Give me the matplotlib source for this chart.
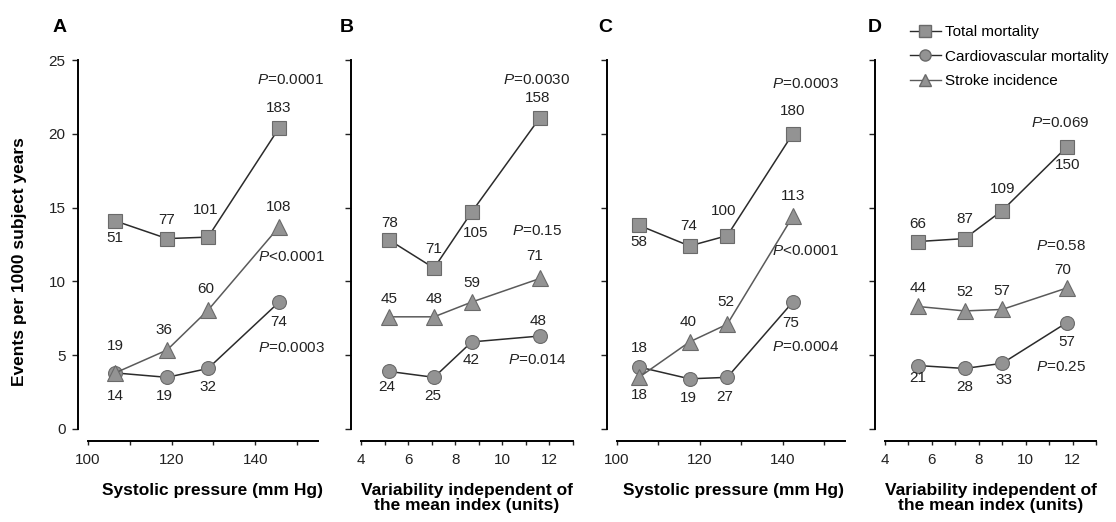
import numpy as np
import matplotlib
matplotlib.use("Agg")
import matplotlib.pyplot as plt
from matplotlib.lines import Line2D

plt.rcParams['font.family'] = ['Liberation Sans', 'DejaVu Sans']
plt.rcParams['mathtext.fontset'] = 'custom'
plt.rcParams['mathtext.it'] = 'Liberation Sans:italic'
plt.rcParams['mathtext.rm'] = 'Liberation Sans'

# -----------------------------
# DATA
# -----------------------------
panel_letters = ["A", "B", "C", "D"]
series_names = ["Total mortality", "Cardiovascular mortality", "Stroke incidence"]

# x positions (group means) per panel
x_A = [106.5, 118.9, 128.7, 145.7]
x_B = [5.2, 7.1, 8.7, 11.6]
x_C = [105.3, 117.5, 126.6, 142.4]
x_D = [5.4, 7.4, 9.0, 11.75]

# rates per 1000 subject years
total_A = [14.1, 12.9, 13.0, 20.4]
cv_A = [3.8, 3.5, 4.1, 8.6]
stroke_A = [3.8, 5.35, 8.05, 13.7]

total_B = [12.8, 10.9, 14.7, 21.1]
cv_B = [3.9, 3.5, 5.9, 6.3]
stroke_B = [7.6, 7.6, 8.6, 10.2]

total_C = [13.8, 12.4, 13.1, 20.0]
cv_C = [4.2, 3.4, 3.5, 8.6]
stroke_C = [3.5, 5.9, 7.1, 14.4]

total_D = [12.7, 12.9, 14.8, 19.1]
cv_D = [4.3, 4.1, 4.45, 7.2]
stroke_D = [8.3, 8.0, 8.1, 9.55]

# number of events
n_total_A = ["51", "77", "101", "183"]
n_cv_A = ["14", "19", "32", "74"]
n_stroke_A = ["19", "36", "60", "108"]

n_total_B = ["78", "71", "105", "158"]
n_cv_B = ["24", "25", "42", "48"]
n_stroke_B = ["45", "48", "59", "71"]

n_total_C = ["58", "74", "100", "180"]
n_cv_C = ["18", "19", "27", "75"]
n_stroke_C = ["18", "40", "52", "113"]

n_total_D = ["66", "87", "109", "150"]
n_cv_D = ["21", "28", "33", "57"]
n_stroke_D = ["44", "52", "57", "70"]

# P values (total, cv, stroke)
p_A = ["=0.0001", "=0.0003", "<0.0001"]
p_B = ["=0.0030", "=0.014", "=0.15"]
p_C = ["=0.0003", "=0.0004", "<0.0001"]
p_D = ["=0.069", "=0.25", "=0.58"]

xlabels = ["Systolic pressure (mm Hg)",
           "Variability independent of\nthe mean index (units)",
           "Systolic pressure (mm Hg)",
           "Variability independent of\nthe mean index (units)"]

# -----------------------------
# LABEL OFFSETS (pixels) - layout only
# -----------------------------
off_total = [[(0, -17), (0, 19), (-2, 27), (0, 20)],
             [(0, 17), (0, 19), (4, -21), (-2, 20)],
             [(0, -17), (-1, 20), (-4, 25), (0, 23)],
             [(0, 18), (0, 20), (0, 22), (1, -18)]]
off_cv = [[(0, -23), (-3, -19), (0, -19), (0, -20)],
          [(-3, -16), (-1, -19), (-1, -18), (-2, 15)],
          [(0, 19), (-1, -19), (-3, -20), (-2, -21)],
          [(0, -12), (0, -19), (2, -17), (0, -19)]]
off_stroke = [[(0, 27), (-3, 20), (-2, 21), (0, 20)],
              [(0, 18), (0, 18), (0, 19), (-5, 22)],
              [(0, -18), (-1, 20), (-1, 22), (0, 20)],
              [(0, 18), (0, 19), (0, 18), (-4, 18)]]
off_p = [[(11, 48), (12, -46), (12, -30)],
         [(-3, 38), (-3, -24), (-3, 47)],
         [(13, 50), (13, -45), (13, -35)],
         [(-6, 24), (-6, -44), (-6, 42)]]
xlabel_x = [0.54, 0.5, 0.51, 0.5]

panels = [
    (x_A, total_A, cv_A, stroke_A, n_total_A, n_cv_A, n_stroke_A, p_A),
    (x_B, total_B, cv_B, stroke_B, n_total_B, n_cv_B, n_stroke_B, p_B),
    (x_C, total_C, cv_C, stroke_C, n_total_C, n_cv_C, n_stroke_C, p_C),
    (x_D, total_D, cv_D, stroke_D, n_total_D, n_cv_D, n_stroke_D, p_D),
]

# axes extents in pixels (left, right)
W, H = 1116, 522
ax_px = [(88, 318), (361, 573), (617, 845), (885, 1096)]
xlims = [(100, 155), (4, 13), (100, 155), (4, 13)]
y_top, y_bot = 60, 429

face = '#939393'
edge = '#6a6a6a'
line_c = '#2b2b2b'
stroke_line = '#5a5a5a'
fs = 11

fig = plt.figure(figsize=(W / 100, H / 100), dpi=100)

for i, (xs, tot, cv, st, nt, nc, ns, pv) in enumerate(panels):
    l, r = ax_px[i]
    ax = fig.add_axes([l / W, 1 - y_bot / H, (r - l) / W, (y_bot - y_top) / H])
    ax.set_xlim(*xlims[i])
    ax.set_ylim(0, 25)

    ax.plot(xs, tot, '-', color=line_c, lw=1.1, marker='s', ms=10,
            mfc=face, mec=edge, mew=0.8, zorder=3)
    ax.plot(xs, cv, '-', color=line_c, lw=1.1, marker='o', ms=10,
            mfc=face, mec=edge, mew=0.8, zorder=3)
    ax.plot(xs, st, '-', color=stroke_line, lw=1.1, marker='^', ms=11,
            mfc=face, mec=edge, mew=0.8, zorder=4)

    for vals, labs, offs in [(tot, nt, off_total[i]), (cv, nc, off_cv[i]),
                             (st, ns, off_stroke[i])]:
        for xv, yv, lab, off in zip(xs, vals, labs, offs):
            ax.annotate(lab, (xv, yv), xytext=off, textcoords='offset pixels',
                        ha='center', va='center', fontsize=fs, color='#222222')

    for vals, p, off in zip([tot, cv, st], pv, off_p[i]):
        ax.annotate(r'$P$' + p, (xs[-1], vals[-1]), xytext=off,
                    textcoords='offset pixels', ha='center', va='center',
                    fontsize=fs, color='#222222')

    # spines
    ax.spines['top'].set_visible(False)
    ax.spines['right'].set_visible(False)
    ax.spines['left'].set_position(('outward', 7.2))
    ax.spines['bottom'].set_position(('outward', 8.6))
    ax.spines['left'].set_bounds(0, 25)
    ax.spines['left'].set_linewidth(1.4)
    ax.spines['bottom'].set_linewidth(1.4)

    ax.set_yticks(np.arange(0, 26, 5))
    if xlims[i][0] == 100:
        ax.set_xticks([100, 120, 140])
        ax.set_xticks(np.arange(100, 156, 10), minor=True)
    else:
        ax.set_xticks([4, 6, 8, 10, 12])
        ax.set_xticks(np.arange(4, 14, 1), minor=True)
    ax.tick_params(axis='both', which='both', direction='out', width=1.0,
                   labelsize=fs, colors='#222222')
    ax.tick_params(axis='y', length=4, pad=5)
    ax.tick_params(axis='x', which='major', length=3, pad=6)
    ax.tick_params(axis='x', which='minor', length=3)
    if i > 0:
        ax.tick_params(axis='y', labelleft=False)

    ax.set_xlabel(xlabels[i], fontsize=12.5, fontweight='bold', labelpad=11,
                  linespacing=1.05)
    ax.xaxis.label.set_x(xlabel_x[i])

    letter_x = [60, 347, 605, 875][i]
    fig.text(letter_x / W, 1 - 27 / H, panel_letters[i], fontsize=14,
             fontweight='bold', ha='center', va='center')

fig.text(20 / W, 1 - 262 / H, "Events per 1000 subject years", rotation=90,
         fontsize=12.5, fontweight='bold', ha='center', va='center')

handles = [
    Line2D([], [], color=line_c, lw=1.0, marker='s', ms=8, mfc=face, mec=edge),
    Line2D([], [], color=line_c, lw=1.0, marker='o', ms=8, mfc=face, mec=edge),
    Line2D([], [], color=stroke_line, lw=1.0, marker='^', ms=8.5, mfc=face, mec=edge),
]
fig.legend(handles, series_names, loc='upper left',
           bbox_to_anchor=(910 / W, 1 - 25 / H), frameon=False, fontsize=11,
           handlelength=2.0, handletextpad=0.3, labelspacing=0.7,
           borderaxespad=0, borderpad=0)

fig.savefig("out.png", dpi=100)
